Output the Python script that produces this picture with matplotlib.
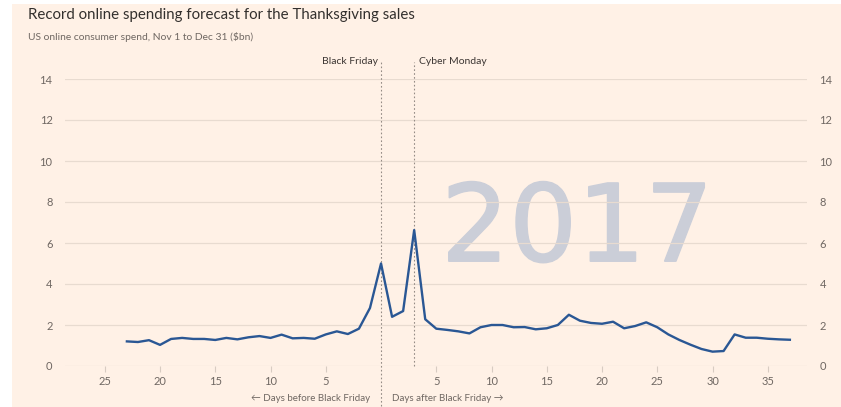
import matplotlib.pyplot as plt
import matplotlib.patheffects as pe
from matplotlib.patches import Rectangle

plt.rcParams['font.family'] = ['Lato', 'DejaVu Sans']

# Days relative to Black Friday (negative = before, 0 = Black Friday)
days = list(range(-23, 38))
spend = [1.20, 1.17, 1.26, 1.03, 1.32, 1.37, 1.32, 1.32, 1.27, 1.37,
         1.30, 1.40, 1.46, 1.37, 1.53, 1.35, 1.37, 1.33, 1.54, 1.69,
         1.56, 1.82, 2.83, 5.00,
         2.40, 2.68, 6.63, 2.28, 1.82, 1.76, 1.69, 1.59, 1.89, 2.00,
         2.00, 1.89, 1.90, 1.79, 1.84, 2.00, 2.50, 2.21, 2.10, 2.06,
         2.16, 1.84, 1.95, 2.13, 1.89, 1.54, 1.27, 1.04, 0.83, 0.70,
         0.73, 1.54, 1.38, 1.38, 1.33, 1.30, 1.28]
xticks = [-25, -20, -15, -10, -5, 5, 10, 15, 20, 25, 30, 35]
yticks = [0, 2, 4, 6, 8, 10, 12, 14]
black_friday = 0
cyber_monday = 3

bg = '#fff1e6'
grey = '#6f6762'
mark = '#cbced8'

fig = plt.figure(figsize=(8.41, 4.07), dpi=100)
fig.patch.set_facecolor('white')
fig.patches.append(Rectangle((12 / 841, 0), 1, 1 - 4 / 407, transform=fig.transFigure,
                             facecolor=bg, edgecolor='none', zorder=-10))

ax = fig.add_axes([65 / 841, 1 - 366 / 407, 742 / 841, 287 / 407])
ax.set_facecolor('none')
ax.set_xlim(-28.6, 38.55)
ax.set_ylim(0, 14)

for s in ax.spines.values():
    s.set_visible(False)

ax.set_yticks(yticks)
ax.yaxis.grid(True, color='#e8dbd0', lw=0.9, zorder=1)
ax.tick_params(axis='y', length=0, labelsize=8, labelcolor=grey, pad=9,
               labelleft=True, labelright=True)

ax.set_xticks(xticks)
ax.set_xticklabels([str(abs(t)) for t in xticks])
ax.tick_params(axis='x', length=4, color='#d8ccc2', labelsize=8, labelcolor=grey, pad=3)

# Watermark year, slightly stroked for a heavier weight
ax.text(17.75, 5.12, '2017', fontsize=77, family='DejaVu Sans', color=mark,
        ha='center', va='baseline', zorder=0.2,
        path_effects=[pe.withStroke(linewidth=1.3, foreground=mark)])

# Reference lines
ax.axvline(black_friday, ymin=-0.14, ymax=1.06, clip_on=False, color='#958c86',
           lw=0.8, ls=(0, (1.5, 2)))
ax.axvline(cyber_monday, ymin=0, ymax=1.06, clip_on=False, color='#958c86',
           lw=0.8, ls=(0, (1.5, 2)))
ax.text(black_friday - 0.3, 14.85, 'Black Friday', ha='right', va='center',
        fontsize=7.5, color='#3c3633')
ax.text(cyber_monday + 0.4, 14.85, 'Cyber Monday', ha='left', va='center',
        fontsize=7.5, color='#3c3633')

ax.plot(days, spend, color='#2a5794', lw=1.7, zorder=3)

ax.text(black_friday - 1.0, -1.6, '\u2190 Days before Black Friday', ha='right', va='center',
        fontsize=7, color=grey)
ax.text(black_friday + 1.0, -1.6, 'Days after Black Friday \u2192', ha='left', va='center',
        fontsize=7, color=grey)

fig.text(28 / 841, 1 - 15 / 407, 'Record online spending forecast for the Thanksgiving sales',
         fontsize=10.8, color='#33302e', va='center')
fig.text(28 / 841, 1 - 37 / 407, 'US online consumer spend, Nov 1 to Dec 31 ($bn)',
         fontsize=7.4, color=grey, va='center')

fig.savefig('out.png', dpi=100, facecolor=fig.get_facecolor())
